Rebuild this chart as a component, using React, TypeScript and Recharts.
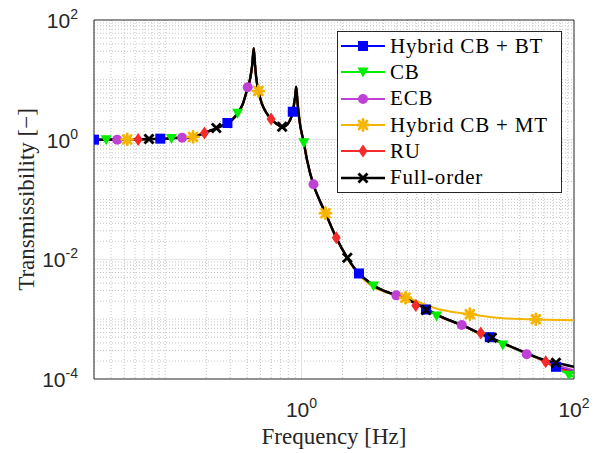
import React from 'react';
import { ComposedChart, Line, Scatter, XAxis, YAxis, CartesianGrid, ReferenceLine, Legend } from 'recharts';

// frequency grid [Hz]
const freq = [
  0.03, 0.05, 0.07, 0.1, 0.13, 0.16, 0.19, 0.22, 0.25, 0.28, 0.31, 0.34, 0.37, 0.4, 0.42, 0.435, 0.446, 0.455, 0.465,
  0.483, 0.51, 0.55, 0.6, 0.65, 0.7, 0.74, 0.79, 0.84, 0.875, 0.9, 0.914, 0.935, 0.966, 1.04, 1.1, 1.22, 1.35, 1.5,
  1.8, 2.17, 2.64, 3.0, 3.4, 4.0, 5.0, 5.8, 7.0, 8.5, 10, 12, 15, 20, 25, 30, 45, 60, 75, 100,
];

const fullOrder = [
  1.0, 1.01, 1.02, 1.04, 1.08, 1.12, 1.26, 1.45, 1.63, 1.86, 2.15, 2.76, 3.9, 7.0, 10.5, 18, 33.6, 19, 11,
  6.5, 4.1, 2.85, 2.2, 1.86, 1.68, 1.65, 1.82, 2.35, 3.5, 5.5, 7.7, 4.2, 2.1, 0.89, 0.45, 0.18, 0.1, 0.059,
  0.023, 0.0106, 0.0058, 0.0045, 0.0036, 0.003, 0.0025, 0.0022, 0.0018, 0.00142, 0.00117, 0.00097, 0.0008, 0.00059, 0.00048, 0.0004, 0.00027, 0.00021, 0.000185, 0.00016,
];
const hybridBT = [
  1.0, 1.01, 1.02, 1.04, 1.08, 1.12, 1.26, 1.45, 1.63, 1.86, 2.15, 2.76, 3.9, 7.0, 10.5, 18, 33.6, 19, 11,
  6.5, 4.1, 2.85, 2.2, 1.86, 1.68, 1.65, 1.82, 2.35, 3.5, 5.5, 7.7, 4.2, 2.1, 0.89, 0.45, 0.18, 0.1, 0.059,
  0.023, 0.0106, 0.0058, 0.0045, 0.0036, 0.003, 0.0025, 0.0022, 0.0018, 0.00142, 0.00117, 0.00097, 0.0008, 0.00059, 0.00048, 0.0004, 0.00027, 0.000205, 0.00016, 0.000135,
];
const cb = [
  1.0, 1.01, 1.02, 1.04, 1.08, 1.12, 1.26, 1.45, 1.63, 1.86, 2.15, 2.76, 3.9, 7.0, 10.5, 18, 33.6, 19, 11,
  6.5, 4.1, 2.85, 2.2, 1.86, 1.68, 1.65, 1.82, 2.35, 3.5, 5.5, 7.7, 4.2, 2.1, 0.89, 0.45, 0.18, 0.1, 0.059,
  0.023, 0.0106, 0.0058, 0.0045, 0.0036, 0.003, 0.0025, 0.0022, 0.0018, 0.00142, 0.00115, 0.00096, 0.00079, 0.00058, 0.00047, 0.00039, 0.00026, 0.0002, 0.00015, 0.000108,
];
const ecb = [
  1.0, 1.01, 1.02, 1.04, 1.08, 1.12, 1.26, 1.45, 1.63, 1.86, 2.15, 2.76, 3.9, 7.0, 10.5, 18, 33.6, 19, 11,
  6.5, 4.1, 2.85, 2.2, 1.86, 1.68, 1.65, 1.82, 2.35, 3.5, 5.5, 7.7, 4.2, 2.1, 0.89, 0.45, 0.18, 0.1, 0.059,
  0.023, 0.0106, 0.0058, 0.0045, 0.0036, 0.003, 0.0025, 0.0022, 0.0018, 0.00142, 0.00117, 0.00097, 0.0008, 0.00059, 0.00048, 0.0004, 0.000265, 0.000205, 0.00017, 0.00014,
];
const hybridMT = [
  1.0, 1.01, 1.02, 1.04, 1.08, 1.12, 1.26, 1.45, 1.63, 1.86, 2.15, 2.76, 3.9, 7.0, 10.5, 18, 33.6, 19, 11,
  6.5, 4.1, 2.85, 2.2, 1.86, 1.68, 1.65, 1.82, 2.35, 3.5, 5.5, 7.7, 4.2, 2.1, 0.89, 0.45, 0.18, 0.1, 0.059,
  0.023, 0.0104, 0.0055, 0.0042, 0.0034, 0.0029, 0.0025, 0.00232, 0.002, 0.00168, 0.00148, 0.00136, 0.00126, 0.00115, 0.00108, 0.00104, 0.001, 0.00098, 0.00097, 0.00096,
];
const ru = [
  1.0, 1.01, 1.02, 1.04, 1.08, 1.12, 1.26, 1.45, 1.63, 1.86, 2.15, 2.76, 3.9, 7.0, 10.5, 18, 33.6, 19, 11,
  6.5, 4.1, 2.85, 2.2, 1.86, 1.68, 1.65, 1.82, 2.35, 3.5, 5.5, 7.7, 4.2, 2.1, 0.89, 0.45, 0.18, 0.1, 0.059,
  0.023, 0.0106, 0.0058, 0.0045, 0.0036, 0.003, 0.0025, 0.0022, 0.0018, 0.00142, 0.00116, 0.00096, 0.00079, 0.00058, 0.00047, 0.00039, 0.00027, 0.000198, 0.000155, 0.000128,
];

// marker positions [f, T]
const markBT = [[0.03, 1.0], [0.092, 1.04], [0.286, 1.9], [0.863, 2.93], [2.64, 0.0058], [8.2, 0.00145], [24.1, 0.0005], [73.7, 0.00016]];
const markCB = [[0.0368, 1.0], [0.111, 1.05], [0.34, 2.76], [1.04, 0.89], [3.38, 0.0036], [9.8, 0.00113], [30, 0.00037], [92, 0.000116]];
const markECB = [[0.0444, 1.0], [0.133, 1.08], [0.403, 7.5], [1.225, 0.18], [4.97, 0.0025], [15, 0.0008], [45, 0.00026]];
const markMT = [[0.0526, 1.01], [0.16, 1.11], [0.483, 6.5], [1.5, 0.059], [5.8, 0.00228], [17.2, 0.00121], [52.5, 0.000995]];
const markRU = [[0.0633, 1.01], [0.194, 1.29], [0.598, 2.21], [1.8, 0.023], [6.9, 0.0017], [20.7, 0.000588], [62, 0.000195]];
const markFull = [[0.076, 1.03], [0.237, 1.57], [0.721, 1.65], [2.17, 0.0106], [8.2, 0.00142], [25, 0.00049], [73.7, 0.000187]];

const xTicks = [1, 100];
const yTicks = [1e-4, 1e-2, 1, 100];

const series = [
  { key: 'bt', name: 'Hybrid CB + BT', color: '#0000ff', marker: 'square', values: hybridBT, marks: markBT },
  { key: 'cb', name: 'CB', color: '#00ee00', marker: 'triangle', values: cb, marks: markCB },
  { key: 'ecb', name: 'ECB', color: '#bf40d4', marker: 'circle', values: ecb, marks: markECB },
  { key: 'mt', name: 'Hybrid CB + MT', color: '#f4b400', marker: 'asterisk', values: hybridMT, marks: markMT },
  { key: 'ru', name: 'RU', color: '#f52a2a', marker: 'diamond', values: ru, marks: markRU },
  { key: 'full', name: 'Full-order', color: '#000000', marker: 'x', values: fullOrder, marks: markFull },
];

const rows = freq.map((f, i) => {
  const r: Record<string, number> = { f };
  series.forEach(s => { r[s.key] = s.values[i]; });
  return r;
});

// minor grid at 2..9 x 10^k
const minorX: number[] = [];
for (let k = -2; k <= 1; k++) for (let m = 1; m <= 9; m++) {
  const v = m * Math.pow(10, k);
  if (v >= 0.03 && v <= 100 && !xTicks.includes(v)) minorX.push(v);
}
const minorY: number[] = [];
for (let k = -4; k <= 1; k++) for (let m = 1; m <= 9; m++) {
  const v = m * Math.pow(10, k);
  if (v > 1e-4 && v < 100 && !yTicks.some(t => Math.abs(t - v) < t * 1e-6)) minorY.push(v);
}

const SANS = '"Liberation Sans", Arial, sans-serif';
const SERIF = '"Liberation Serif", "Times New Roman", serif';

function Marker({ kind, cx, cy, color }: { kind: string; cx: number; cy: number; color: string }) {
  switch (kind) {
    case 'square':
      return <rect x={cx - 5} y={cy - 5} width={10} height={10} fill={color} />;
    case 'triangle':
      return <polygon points={`${cx - 5.5},${cy - 4.5} ${cx + 5.5},${cy - 4.5} ${cx},${cy + 5.5}`} fill={color} />;
    case 'circle':
      return <circle cx={cx} cy={cy} r={5} fill={color} />;
    case 'diamond':
      return <polygon points={`${cx},${cy - 6.5} ${cx + 4.5},${cy} ${cx},${cy + 6.5} ${cx - 4.5},${cy}`} fill={color} />;
    case 'asterisk':
      return (
        <g stroke={color} strokeWidth={2.8} strokeLinecap="round">
          <line x1={cx - 5.5} y1={cy} x2={cx + 5.5} y2={cy} />
          <line x1={cx} y1={cy - 5.5} x2={cx} y2={cy + 5.5} />
          <line x1={cx - 4} y1={cy - 4} x2={cx + 4} y2={cy + 4} />
          <line x1={cx - 4} y1={cy + 4} x2={cx + 4} y2={cy - 4} />
        </g>
      );
    default:
      return (
        <g stroke={color} strokeWidth={2.8}>
          <line x1={cx - 4.5} y1={cy - 4.5} x2={cx + 4.5} y2={cy + 4.5} />
          <line x1={cx - 4.5} y1={cy + 4.5} x2={cx + 4.5} y2={cy - 4.5} />
        </g>
      );
  }
}

function PowTick(props: any) {
  const { x, y, payload, axis } = props;
  const exp = Math.round(Math.log10(payload.value));
  if (axis === 'x') {
    return (
      <text x={x} y={y + 30} textAnchor="middle" fontFamily={SANS} fontSize={21} fill="#262626">
        10<tspan dy={-9} fontSize={14}>{exp}</tspan>
      </text>
    );
  }
  return (
    <text x={x - 8} y={y + 8} textAnchor="end" fontFamily={SANS} fontSize={21} fill="#262626">
      10<tspan dy={-9} fontSize={14}>{exp}</tspan>
    </text>
  );
}

function LegendBox() {
  return (
    <div style={{ width: 223, height: 159, border: '1px solid #262626', background: '#fff', paddingTop: 1 }}>
      {series.map(s => (
        <div key={s.key} style={{ display: 'flex', alignItems: 'center', height: 26.3 }}>
          <svg width={52} height={20} style={{ flex: 'none' }}>
            <line x1={3} y1={10} x2={47} y2={10} stroke={s.color} strokeWidth={s.key === 'full' ? 2.5 : 2} />
            <Marker kind={s.marker} cx={25} cy={10} color={s.color} />
          </svg>
          <span style={{ fontFamily: SERIF, fontSize: 21, color: '#000', letterSpacing: 0.8, whiteSpace: 'nowrap' }}>{s.name}</span>
        </div>
      ))}
    </div>
  );
}

export default function App() {
  return (
    <div style={{ position: 'absolute', left: 0, top: 0, width: 599, height: 453, background: '#fff' }}>
      <ComposedChart width={599} height={453} data={rows} margin={{ top: 20, right: 25, left: 0, bottom: 0 }}>
        <CartesianGrid verticalValues={minorX} horizontalValues={minorY} stroke="#c4c4c4" strokeDasharray="1 2" />
        <CartesianGrid verticalValues={[1]} horizontalValues={[1e-2, 1]} stroke="#e2e2e2" />
        <XAxis
          dataKey="f"
          type="number"
          scale="log"
          domain={[0.03, 100]}
          allowDataOverflow
          ticks={xTicks}
          interval={0}
          height={74}
          tickLine={false}
          axisLine={{ stroke: '#262626' }}
          tick={<PowTick axis="x" />}
          label={{ value: 'Frequency [Hz]', position: 'insideBottom', offset: 9, style: { fontFamily: SERIF, fontSize: 23, fill: '#262626' } }}
        />
        <YAxis
          type="number"
          scale="log"
          domain={[1e-4, 100]}
          allowDataOverflow
          ticks={yTicks}
          interval={0}
          width={94}
          tickLine={false}
          axisLine={{ stroke: '#262626' }}
          tick={<PowTick axis="y" />}
          label={{ value: 'Transmissibility [−]', angle: -90, position: 'insideLeft', offset: 26, style: { fontFamily: SERIF, fontSize: 23, fill: '#262626', textAnchor: 'middle' } }}
        />
        <ReferenceLine y={100} stroke="#262626" />
        <ReferenceLine x={100} stroke="#262626" />
        {series.map(s => (
          <Line
            key={s.key}
            dataKey={s.key}
            name={s.name}
            type="monotone"
            stroke={s.color}
            strokeWidth={s.key === 'full' ? 2.5 : 2}
            dot={false}
            isAnimationActive={false}
          />
        ))}
        {series.map(s => (
          <Scatter
            key={s.key + '-m'}
            data={s.marks.map(([f, t]) => ({ f, t }))}
            dataKey="t"
            isAnimationActive={false}
            legendType="none"
            shape={(p: any) => <Marker kind={s.marker} cx={p.cx} cy={p.cy} color={s.color} />}
          />
        ))}
        <Legend
          layout="vertical"
          align="center"
          verticalAlign="middle"
          width={225}
          height={161}
          wrapperStyle={{ left: 337, top: 31 }}
          content={() => <LegendBox />}
        />
      </ComposedChart>
    </div>
  );
}
